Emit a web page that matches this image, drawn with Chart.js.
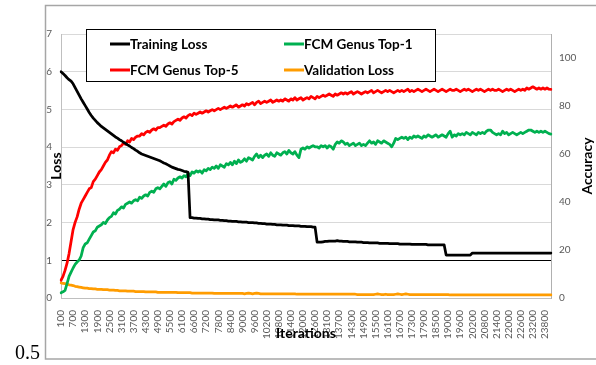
<!DOCTYPE html>
<html>
<head>
<meta charset="utf-8">
<script src="https://cdn.jsdelivr.net/npm/chart.js@4.4.1/dist/chart.umd.min.js"></script>
<style>
  html, body { margin: 0; padding: 0; background: #fff; }
  #wrap { position: relative; width: 596px; height: 365px; }
</style>
</head>
<body>
<div id="wrap"><canvas id="chart" width="596" height="365"></canvas></div>
<script>
// iteration numbers; the run was resumed from a checkpoint at every LR drop,
// so the resume iteration shows up twice on the axis
const runSegments = [[100, 6300], [6300, 12600], [12600, 18800], [18800, 24100]];
const iterations = [];
runSegments.forEach(([from, to]) => {
	for (let it = from; it <= to; it += 100) iterations.push(String(it));
});
const labelEvery = 6;

const lossTicks = [0, 1, 2, 3, 4, 5, 6, 7];
const accTicks = [0, 20, 40, 60, 80, 100];

const trainingLoss = [
	6.00, 5.95, 5.90, 5.84, 5.79, 5.75, 5.68, 5.58, 5.48, 5.38,
	5.28, 5.19, 5.10, 5.01, 4.92, 4.84, 4.77, 4.71, 4.65, 4.60,
	4.55, 4.51, 4.47, 4.43, 4.39, 4.35, 4.31, 4.27, 4.24, 4.20,
	4.17, 4.13, 4.10, 4.06, 4.03, 3.99, 3.96, 3.92, 3.89, 3.85,
	3.82, 3.80, 3.78, 3.76, 3.74, 3.72, 3.70, 3.68, 3.66, 3.64,
	3.61, 3.58, 3.56, 3.53, 3.50, 3.47, 3.45, 3.43, 3.41, 3.40,
	3.38, 3.36, 3.35, 3.33, 2.13, 2.13, 2.12, 2.12, 2.11, 2.11,
	2.10, 2.10, 2.09, 2.09, 2.08, 2.08, 2.07, 2.07, 2.07, 2.06,
	2.06, 2.05, 2.05, 2.04, 2.04, 2.03, 2.03, 2.03, 2.02, 2.02,
	2.01, 2.01, 2.01, 2.00, 2.00, 2.00, 1.99, 1.99, 1.98, 1.98,
	1.97, 1.97, 1.96, 1.96, 1.96, 1.95, 1.95, 1.94, 1.94, 1.94,
	1.93, 1.93, 1.93, 1.92, 1.92, 1.92, 1.91, 1.91, 1.91, 1.90,
	1.90, 1.90, 1.89, 1.89, 1.89, 1.88, 1.88, 1.48, 1.48, 1.48,
	1.49, 1.50, 1.50, 1.51, 1.51, 1.51, 1.51, 1.52, 1.51, 1.51,
	1.50, 1.50, 1.50, 1.49, 1.49, 1.49, 1.49, 1.48, 1.48, 1.48,
	1.47, 1.47, 1.47, 1.46, 1.46, 1.46, 1.46, 1.46, 1.45, 1.45,
	1.45, 1.45, 1.45, 1.44, 1.44, 1.44, 1.44, 1.44, 1.43, 1.43,
	1.43, 1.43, 1.43, 1.43, 1.42, 1.42, 1.42, 1.42, 1.42, 1.42,
	1.42, 1.42, 1.41, 1.41, 1.41, 1.41, 1.41, 1.41, 1.41, 1.41,
	1.41, 1.14, 1.14, 1.14, 1.14, 1.14, 1.14, 1.14, 1.14, 1.14,
	1.14, 1.14, 1.14, 1.14, 1.19, 1.19, 1.19, 1.19, 1.19, 1.19,
	1.19, 1.19, 1.19, 1.19, 1.19, 1.19, 1.19, 1.19, 1.19, 1.19,
	1.19, 1.19, 1.19, 1.19, 1.19, 1.19, 1.19, 1.19, 1.19, 1.19,
	1.19, 1.19, 1.19, 1.19, 1.19, 1.19, 1.19, 1.19, 1.19, 1.19,
	1.19, 1.19, 1.19, 1.19
];

const top1Acc = [
	2.2, 2.6, 3.2, 6.0, 9.0, 10.8, 12.5, 14.0, 15.0, 15.8,
	17.5, 21.0, 22.5, 23.0, 24.5, 26.0, 27.5, 28.0, 29.5, 30.0,
	30.5, 31.5, 31.0, 32.5, 33.5, 34.0, 35.5, 35.0, 36.5, 37.0,
	38.0, 37.5, 39.0, 39.5, 40.0, 39.5, 40.5, 41.0, 40.5, 42.0,
	41.5, 42.5, 43.0, 42.5, 44.0, 44.5, 44.0, 45.5, 46.0, 45.5,
	46.5, 47.5, 46.5, 48.0, 48.5, 47.5, 49.5, 49.0, 50.0, 50.5,
	50.0, 51.0, 50.5, 52.0, 51.0, 52.5, 52.0, 53.0, 52.5, 53.0,
	52.0, 53.5, 53.0, 54.0, 53.5, 54.5, 54.0, 55.0, 54.0, 55.5,
	55.0, 54.5, 56.0, 55.5, 56.5, 55.5, 57.0, 56.0, 57.5, 56.5,
	57.0, 58.0, 57.0, 58.5, 58.0, 57.5, 59.0, 60.0, 58.5, 59.5,
	58.5, 59.5, 60.0, 59.0, 60.5, 59.5, 59.0, 60.5, 60.0, 59.5,
	60.5, 61.0, 60.0, 61.5, 60.5, 60.0, 61.0, 59.5, 58.5, 62.0,
	62.5, 62.0, 63.0, 62.5, 63.0, 63.5, 63.0, 63.0, 62.5, 63.5,
	63.0, 63.5, 62.5, 63.5, 63.0, 62.0, 64.0, 65.0, 64.5, 65.5,
	65.0, 64.0, 64.5, 63.5, 64.0, 64.5, 63.5, 64.0, 64.5, 63.5,
	64.0, 63.5, 64.5, 65.5, 64.5, 65.0, 64.0, 65.5, 65.0, 64.5,
	65.5, 65.0, 64.5, 64.0, 63.0, 64.5, 66.5, 66.0, 66.5, 67.0,
	66.5, 67.0, 66.0, 67.0, 66.5, 67.5, 67.0, 67.5, 67.0, 66.5,
	67.5, 67.0, 68.0, 67.5, 67.0, 67.5, 68.0, 67.0, 67.5, 68.0,
	67.5, 67.0, 68.5, 69.5, 67.0, 68.0, 67.5, 68.5, 68.0, 68.5,
	68.0, 69.0, 68.5, 68.0, 69.0, 68.5, 68.0, 69.0, 68.5, 69.0,
	68.5, 69.5, 70.0, 70.0, 69.0, 68.5, 68.0, 68.5, 68.0, 69.5,
	68.5, 69.0, 68.0, 68.5, 69.0, 68.5, 68.0, 68.5, 69.0, 68.5,
	69.0, 69.5, 70.0, 70.0, 69.5, 69.0, 69.5, 69.0, 69.5, 69.0,
	69.5, 69.0, 68.5, 68.3
];

const top5Acc = [
	7.4, 9.0, 11.5, 14.5, 18.5, 23.5, 28.5, 31.5, 33.8, 37.0,
	39.5, 41.0, 42.5, 44.0, 45.5, 46.0, 48.5, 49.5, 51.0, 52.5,
	53.5, 55.0, 56.5, 57.5, 59.5, 61.0, 60.5, 62.0, 61.5, 63.0,
	63.5, 64.5, 64.0, 65.5, 65.0, 66.5, 66.0, 67.0, 67.5, 67.5,
	68.5, 68.0, 69.0, 69.5, 69.0, 70.0, 70.5, 70.0, 71.0, 71.0,
	71.5, 72.0, 71.5, 72.5, 73.0, 72.5, 73.5, 74.0, 74.5, 74.0,
	75.0, 75.5, 75.0, 76.0, 76.5, 76.0, 77.0, 76.5, 77.0, 77.5,
	77.0, 77.5, 78.0, 77.5, 78.0, 78.5, 78.0, 78.5, 79.0, 78.5,
	79.0, 79.5, 79.0, 79.5, 80.0, 79.5, 80.0, 80.5, 79.5, 80.0,
	80.5, 80.0, 81.0, 80.5, 81.0, 81.5, 80.5, 81.5, 82.0, 81.0,
	81.5, 82.0, 81.5, 82.0, 82.5, 81.5, 82.0, 82.5, 82.0, 82.5,
	82.0, 83.0, 82.5, 82.0, 83.0, 82.5, 83.5, 82.5, 83.0, 83.5,
	82.5, 83.0, 83.5, 83.0, 84.0, 83.5, 83.0, 84.0, 83.5, 84.0,
	84.5, 84.0, 84.5, 85.0, 84.5, 84.0, 85.0, 84.5, 85.0, 85.5,
	85.0, 85.5, 85.0, 85.5, 86.0, 85.0, 85.5, 86.0, 85.5, 85.0,
	85.5, 86.0, 85.5, 86.0, 86.5, 85.5, 86.0, 86.5, 86.0, 85.5,
	86.0, 86.5, 86.0, 86.5, 86.0, 85.5, 86.0, 86.5, 86.0, 86.5,
	86.0, 86.5, 87.0, 86.0, 86.5, 86.0, 86.5, 87.0, 86.5, 86.0,
	86.5, 87.0, 86.5, 86.0, 86.5, 87.0, 86.5, 86.0, 86.5, 87.0,
	86.5, 86.0, 86.5, 87.0, 86.5, 86.5, 87.0, 86.5, 86.0, 86.5,
	87.0, 86.5, 87.0, 86.5, 86.0, 86.5, 87.0, 86.5, 87.0, 86.5,
	86.0, 86.5, 87.0, 86.5, 87.0, 86.5, 86.5, 87.0, 86.5, 86.0,
	86.5, 87.0, 86.5, 87.0, 86.5, 86.0, 86.5, 87.0, 86.5, 87.0,
	86.5, 87.5, 87.0, 87.5, 88.0, 87.5, 87.0, 87.5, 87.0, 87.5,
	87.0, 87.5, 87.0, 86.9
];

const validationLoss = [
	0.40, 0.39, 0.38, 0.37, 0.35, 0.34, 0.33, 0.31, 0.30, 0.29,
	0.28, 0.27, 0.26, 0.26, 0.25, 0.25, 0.24, 0.24, 0.23, 0.23,
	0.23, 0.22, 0.22, 0.22, 0.21, 0.21, 0.21, 0.20, 0.20, 0.19,
	0.19, 0.19, 0.19, 0.18, 0.18, 0.18, 0.18, 0.17, 0.17, 0.17,
	0.17, 0.17, 0.16, 0.16, 0.16, 0.16, 0.16, 0.16, 0.15, 0.15,
	0.15, 0.15, 0.15, 0.15, 0.15, 0.15, 0.15, 0.15, 0.14, 0.14,
	0.14, 0.14, 0.14, 0.14, 0.14, 0.13, 0.13, 0.13, 0.13, 0.13,
	0.13, 0.13, 0.13, 0.13, 0.13, 0.13, 0.12, 0.12, 0.12, 0.12,
	0.12, 0.12, 0.12, 0.12, 0.12, 0.12, 0.12, 0.12, 0.12, 0.12,
	0.12, 0.11, 0.12, 0.13, 0.12, 0.11, 0.12, 0.13, 0.12, 0.11,
	0.11, 0.11, 0.11, 0.11, 0.11, 0.11, 0.11, 0.11, 0.11, 0.11,
	0.11, 0.11, 0.11, 0.11, 0.11, 0.11, 0.11, 0.10, 0.10, 0.10,
	0.10, 0.10, 0.10, 0.10, 0.10, 0.10, 0.10, 0.10, 0.10, 0.10,
	0.10, 0.10, 0.10, 0.10, 0.10, 0.10, 0.10, 0.10, 0.10, 0.10,
	0.10, 0.10, 0.10, 0.10, 0.10, 0.10, 0.10, 0.09, 0.09, 0.09,
	0.09, 0.09, 0.09, 0.09, 0.09, 0.09, 0.10, 0.11, 0.10, 0.09,
	0.09, 0.10, 0.09, 0.09, 0.09, 0.09, 0.10, 0.11, 0.10, 0.09,
	0.10, 0.11, 0.10, 0.09, 0.09, 0.09, 0.09, 0.09, 0.09, 0.09,
	0.09, 0.09, 0.09, 0.09, 0.09, 0.09, 0.09, 0.09, 0.09, 0.09,
	0.09, 0.09, 0.09, 0.08, 0.08, 0.08, 0.08, 0.08, 0.08, 0.08,
	0.08, 0.08, 0.08, 0.08, 0.08, 0.08, 0.08, 0.08, 0.08, 0.08,
	0.08, 0.08, 0.08, 0.08, 0.08, 0.08, 0.08, 0.08, 0.08, 0.08,
	0.08, 0.08, 0.08, 0.08, 0.08, 0.08, 0.08, 0.08, 0.08, 0.08,
	0.08, 0.08, 0.08, 0.08, 0.08, 0.08, 0.08, 0.08, 0.08, 0.08,
	0.08, 0.08, 0.08, 0.08
];

Chart.defaults.font.family = "Lato, 'Liberation Sans', sans-serif";

// legend box, axis titles and the figure frame, drawn on top of the plot
const decorations = {
	id: "decorations",
	afterDraw(chart) {
		const { ctx, chartArea } = chart;
		ctx.save();

		ctx.strokeStyle = "#a6a6a6";
		ctx.lineWidth = 1.5;
		ctx.strokeRect(45.5, 5.5, 570, 353.5);

		ctx.fillStyle = "#000";
		ctx.font = "20px 'Liberation Serif'";
		ctx.textBaseline = "alphabetic";
		ctx.fillText("0.5", 15, 359);

		// legend, two rows of two entries
		ctx.fillStyle = "#fff";
		ctx.fillRect(86, 29, 350, 53);
		ctx.strokeStyle = "#000";
		ctx.lineWidth = 1;
		ctx.strokeRect(86.5, 29.5, 349, 52);
		const slots = [[110, 44], [284, 44], [110, 70], [284, 70]];
		ctx.font = "bold 13.5px Lato";
		ctx.textBaseline = "middle";
		chart.data.datasets.forEach((ds, i) => {
			const [x, y] = slots[i];
			ctx.strokeStyle = ds.borderColor;
			ctx.lineWidth = 3;
			ctx.beginPath();
			ctx.moveTo(x, y);
			ctx.lineTo(x + 20, y);
			ctx.stroke();
			ctx.fillStyle = "#000";
			ctx.fillText(ds.label, x + 20, y + 0.5);
		});

		// axis titles
		ctx.font = "bold 14px Lato";
		ctx.textAlign = "center";
		ctx.fillText("Iterations", (chartArea.left + chartArea.right) / 2, 333);
		const midY = (chartArea.top + chartArea.bottom) / 2;
		[["Loss", 56], ["Accuracy", 587]].forEach(([text, x]) => {
			ctx.save();
			ctx.translate(x, midY);
			ctx.rotate(-Math.PI / 2);
			ctx.fillText(text, 0, 0);
			ctx.restore();
		});
		ctx.restore();
	},
};

const tickFont = { size: 10 };
const tickColor = "#595959";

new Chart(document.getElementById("chart"), {
	type: "line",
	data: {
		labels: iterations,
		datasets: [
			{ label: "Training Loss", data: trainingLoss, borderColor: "#000000", yAxisID: "y" },
			{ label: "FCM Genus Top-1", data: top1Acc, borderColor: "#00b050", yAxisID: "y1" },
			{ label: "FCM Genus Top-5", data: top5Acc, borderColor: "#ff0000", yAxisID: "y1" },
			{ label: "Validation Loss", data: validationLoss, borderColor: "#ff9c00", yAxisID: "y" },
		],
	},
	options: {
		responsive: false,
		animation: false,
		devicePixelRatio: 1,
		layout: { padding: { top: 34, left: 0, right: 0, bottom: 0 } },
		plugins: { legend: { display: false }, tooltip: { enabled: false } },
		elements: {
			point: { radius: 0 },
			line: { borderWidth: 2.75, tension: 0, borderJoinStyle: "round", borderCapStyle: "round" },
		},
		scales: {
			x: {
				type: "category",
				grid: { display: false },
				border: { color: "#bfbfbf" },
				ticks: {
					autoSkip: false,
					minRotation: 90,
					maxRotation: 90,
					padding: 4,
					font: tickFont,
					color: tickColor,
					callback: (value, index) => (index % labelEvery === 0 ? iterations[index] : ""),
				},
				afterFit: (s) => { s.height = 67; },
			},
			y: {
				position: "left",
				min: 0,
				max: 7,
				afterBuildTicks: (s) => { s.ticks = lossTicks.map((v) => ({ value: v })); },
				grid: {
					drawTicks: false,
					color: (c) => (c.tick && c.tick.value === 1 ? "#000000" : "#d9d9d9"),
				},
				border: { color: "#bfbfbf" },
				ticks: { padding: 9, font: tickFont, color: tickColor },
				afterFit: (s) => { s.width = 61; },
			},
			y1: {
				position: "right",
				min: 0,
				max: 110,
				afterBuildTicks: (s) => { s.ticks = accTicks.map((v) => ({ value: v })); },
				grid: { drawOnChartArea: false, drawTicks: false },
				border: { color: "#b0b0b0" },
				ticks: { padding: 8, font: tickFont, color: tickColor },
				afterFit: (s) => { s.width = 45; },
			},
		},
	},
	plugins: [decorations],
});
</script>
</body>
</html>
